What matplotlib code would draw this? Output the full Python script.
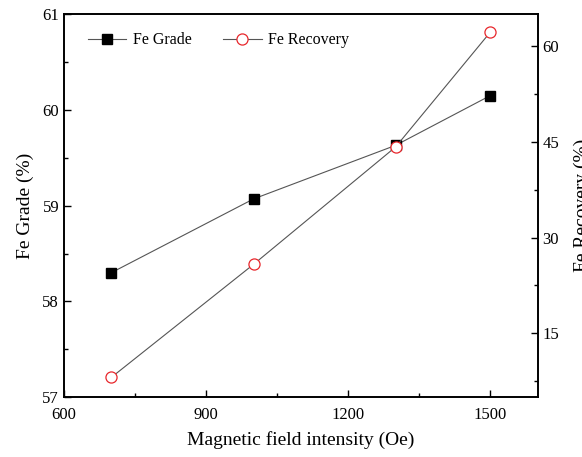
import matplotlib.pyplot as plt
from matplotlib.ticker import MultipleLocator

# data
intensity = [700, 1000, 1300, 1500]
fe_grade = [58.30, 59.07, 59.63, 60.15]
fe_recovery = [8.1, 25.8, 44.2, 62.2]

plt.rcParams['font.family'] = ['Liberation Serif', 'DejaVu Serif']

fig = plt.figure(figsize=(5.82, 4.57), dpi=100)
ax = fig.add_axes([0.110, 0.131, 0.814, 0.838])
ax2 = ax.twinx()

l1, = ax.plot(intensity, fe_grade, color='#555555', lw=0.8, marker='s',
              ms=7, mfc='black', mec='black', label='Fe Grade')
l2, = ax2.plot(intensity, fe_recovery, color='#555555', lw=0.8, marker='o',
               ms=8, mfc='white', mec='#e8262b', mew=0.9, label='Fe Recovery')

ax.set_xlim(600, 1600)
ax.set_ylim(57, 61)
ax2.set_ylim(5, 65)

ax.xaxis.set_major_locator(MultipleLocator(300))
ax.xaxis.set_minor_locator(MultipleLocator(150))
ax.yaxis.set_major_locator(MultipleLocator(1))
ax.yaxis.set_minor_locator(MultipleLocator(0.5))
ax2.yaxis.set_major_locator(MultipleLocator(15))
ax2.yaxis.set_minor_locator(MultipleLocator(7.5))

for a in (ax, ax2):
    a.tick_params(which='both', direction='in', labelsize=12, top=False)
    a.tick_params(which='major', length=5, width=1)
    a.tick_params(which='minor', length=3, width=1)
    for s in a.spines.values():
        s.set_linewidth(1.2)
ax.set_xticks([600, 900, 1200, 1500])
ax.tick_params(axis='x', pad=7)

ax.set_xlabel('Magnetic field intensity (Oe)', fontsize=14, labelpad=6)
ax.set_ylabel('Fe Grade (%)', fontsize=14, labelpad=6)
ax2.set_ylabel('Fe Recovery (%)', fontsize=14, labelpad=10)

ax.legend([l1, l2], ['Fe Grade', 'Fe Recovery'], loc='upper left', ncol=2,
          frameon=False, fontsize=11.5, handlelength=2.4, handletextpad=0.4,
          columnspacing=2.0, bbox_to_anchor=(0.02, 0.99))

fig.savefig('out.png', dpi=100)
